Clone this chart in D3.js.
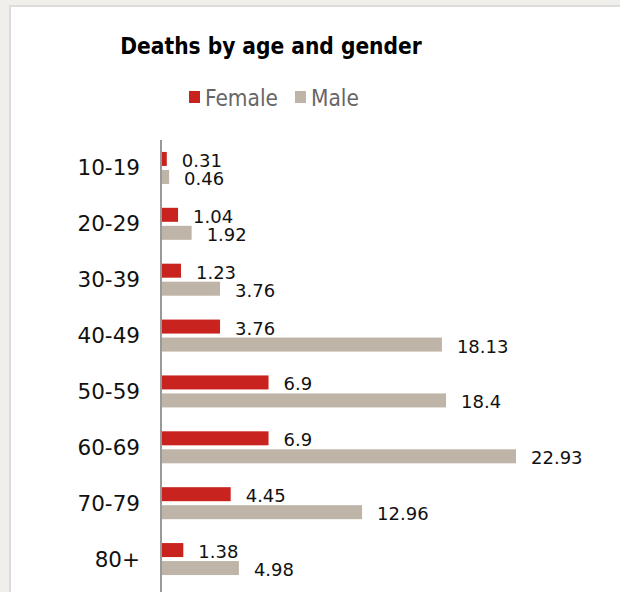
<!DOCTYPE html>
<html>
<head>
<meta charset="utf-8">
<script src="https://cdn.jsdelivr.net/npm/d3@7"></script>
<style>
  body { margin: 0; background: #f0efeb; }
  #card {
    position: absolute; left: 9px; top: 5px; width: 640px; height: 620px;
    background: #fff; border: 2px solid #dcdcdb; box-sizing: border-box;
  }
  svg { position: absolute; left: 0; top: 0; }
</style>
</head>
<body>
<div id="card"></div>
<div id="container"></div>
<script>
let width = 620;
let height = 592;

let ages = ["10-19", "20-29", "30-39", "40-49", "50-59", "60-69", "70-79", "80+"];
let female = [0.31, 1.04, 1.23, 3.76, 6.9, 6.9, 4.45, 1.38];
let male = [0.46, 1.92, 3.76, 18.13, 18.4, 22.93, 12.96, 4.98];
let series = ["Female", "Male"];
let colors = ["#c9231f", "#beb4a7"];

let axis_x = 161;

let svg = d3.select("#container")
  .append("svg")
  .attr("width", width)
  .attr("height", height);

let y = d3.scaleBand()
  .domain(ages)
  .range([140, 587]);

let y_sub = d3.scaleBand()
  .domain(series)
  .range([-16, 16])
  .paddingInner(4 / 18);

let x = d3.scaleLinear()
  .domain([0, 22.93])
  .range([axis_x, axis_x + 354]);

let color = d3.scaleOrdinal().domain(series).range(colors);

// title
svg.append("text")
  .attr("x", 271)
  .attr("y", 54)
  .attr("text-anchor", "middle")
  .style("font-family", "'DejaVu Sans Condensed', 'DejaVu Sans', sans-serif")
  .style("font-stretch", "condensed")
  .style("font-weight", "bold")
  .style("font-size", "22.5px")
  .attr("fill", "#000")
  .text("Deaths by age and gender");

// legend
let legend = svg.append("g").attr("class", "legend");
let legend_x = [189, 295];
series.forEach(function (s, i) {
  legend.append("rect")
    .attr("x", legend_x[i])
    .attr("y", 91)
    .attr("width", 11)
    .attr("height", 12)
    .attr("fill", color(s));
  legend.append("text")
    .attr("x", legend_x[i] + 16)
    .attr("y", 106)
    .style("font-family", "'DejaVu Sans Condensed', 'DejaVu Sans', sans-serif")
    .style("font-stretch", "condensed")
    .style("font-size", "22.5px")
    .attr("fill", "#666")
    .text(s);
});

let rows = ages.map(function (a, i) {
  return { age: a, values: [{ key: "Female", v: female[i] }, { key: "Male", v: male[i] }] };
});

let groups = svg.selectAll(".row")
  .data(rows)
  .enter()
  .append("g")
  .attr("class", "row")
  .attr("transform", function (d) {
    return "translate(0," + (y(d.age) + y.bandwidth() / 2) + ")";
  });

groups.selectAll("rect")
  .data(function (d) { return d.values; })
  .enter()
  .append("rect")
  .attr("x", x(0) + 1)
  .attr("y", function (d) { return y_sub(d.key); })
  .attr("width", function (d) { return x(d.v) - x(0); })
  .attr("height", y_sub.bandwidth())
  .attr("fill", function (d) { return color(d.key); });

groups.selectAll(".val")
  .data(function (d) { return d.values; })
  .enter()
  .append("text")
  .attr("class", "val")
  .attr("x", function (d) { return x(d.v) + 16; })
  .attr("y", function (d) { return y_sub(d.key) + y_sub.bandwidth() + 1; })
  .style("font-family", "'DejaVu Sans', Verdana, sans-serif")
  .style("font-size", "18px")
  .attr("fill", "#111")
  .text(function (d) { return d.v; });

// category axis
let yAxis = d3.axisLeft(y).tickSize(0).tickPadding(21);
let ax = svg.append("g")
  .attr("transform", "translate(" + axis_x + ",0)")
  .call(yAxis);
ax.select(".domain")
  .attr("d", "M0,140V592")
  .attr("stroke", "#999")
  .attr("stroke-width", 2);
ax.selectAll("text")
  .attr("dy", null)
  .attr("y", 7.5)
  .style("font-family", "'DejaVu Sans', Verdana, sans-serif")
  .style("font-size", "21.5px")
  .attr("fill", "#111");
</script>
</body>
</html>
